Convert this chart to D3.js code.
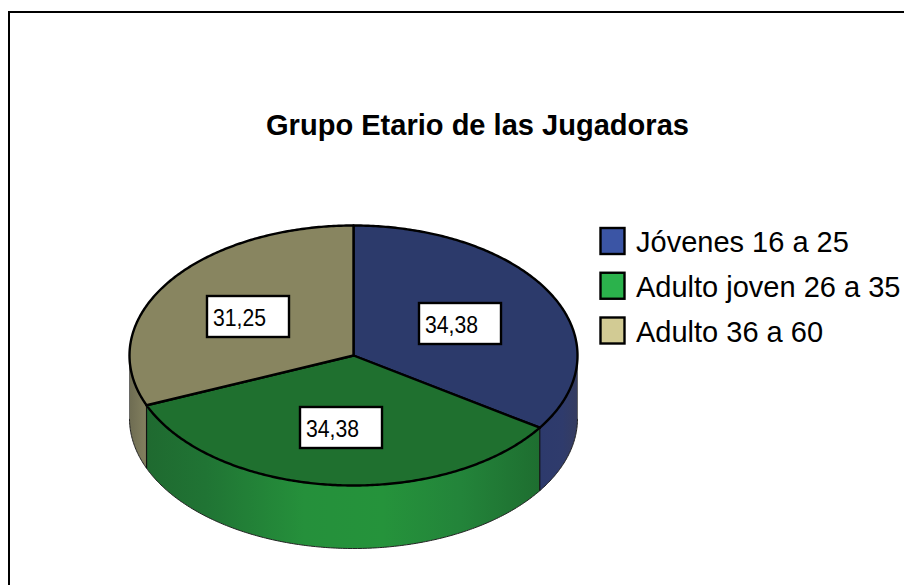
<!DOCTYPE html>
<html><head><meta charset="utf-8">
<script src="https://cdn.jsdelivr.net/npm/d3@7"></script>
<style>html,body{margin:0;padding:0;background:#fff}svg{display:block}text{font-family:"Liberation Sans",Arial,sans-serif;fill:#000}</style>
</head><body><svg id="c" width="904" height="585"></svg>
<script>
const categories = ["Jóvenes 16 a 25", "Adulto joven 26 a 35", "Adulto 36 a 60"];
const values = [34.38, 34.38, 31.25];
const valueLabels = ["34,38", "34,38", "31,25"];
const legendColors = ["#3b55a5", "#2bb24c", "#d2cb94"];
const topColors = ["#2c3a6b", "#1f702f", "#888560"];
const wallStops = [
  [[0, "#2d3a6c"], [0.6, "#2f3b6c"], [1, "#353c60"]],
  [[0, "#1f6a30"], [0.15, "#207434"], [0.4, "#25903b"], [0.6, "#25933b"], [0.8, "#23843a"], [1, "#1e6e30"]],
  [[0, "#6e6c52"], [1, "#83805f"]]
];
const title = "Grupo Etario de las Jugadoras";

const cx = 353.5, cy = 355.5, rx = 224, ry = 130, depth = 63;
const svg = d3.select("#c");
const defs = svg.append("defs");

// frame: top and left rules only
svg.append("path").attr("d", "M904,12H9V585").attr("fill", "none").attr("stroke", "#000").attr("stroke-width", 2);

svg.append("text").attr("x", 477.5).attr("y", 134.5).attr("text-anchor", "middle")
  .attr("font-size", 29.3).attr("font-weight", "bold").attr("textLength", 423).attr("lengthAdjust", "spacingAndGlyphs").text(title);

const pie = d3.pie().sort(null).value(d => d).startAngle(0).endAngle(2 * Math.PI);
const arcs = pie(values);
const px = a => cx + rx * Math.sin(a);
const py = (a, dy = 0) => cy - ry * Math.cos(a) + dy;
const sample = (a0, a1) => {
  const n = Math.max(2, Math.ceil(Math.abs(a1 - a0) * 90));
  return d3.range(n + 1).map(i => a0 + (a1 - a0) * i / n);
};
const line = d3.line();

// side walls: only the front half of the ellipse (pi/2 to 3pi/2) is visible
arcs.forEach((d, i) => {
  const a0 = Math.max(d.startAngle, Math.PI / 2), a1 = Math.min(d.endAngle, 3 * Math.PI / 2);
  if (a1 <= a0) return;
  const xs = [px(a0), px(a1)];
  const g = defs.append("linearGradient").attr("id", "w" + i).attr("gradientUnits", "userSpaceOnUse")
    .attr("x1", d3.min(xs)).attr("x2", d3.max(xs)).attr("y1", 0).attr("y2", 0);
  wallStops[i].forEach(s => g.append("stop").attr("offset", s[0]).attr("stop-color", s[1]));
  const upper = sample(a0, a1).map(a => [px(a), py(a)]);
  const lower = sample(a1, a0).map(a => [px(a), py(a, depth)]);
  svg.append("path").attr("d", line(upper.concat(lower)) + "Z").attr("fill", `url(#w${i})`);
  svg.append("path").attr("d", line(lower)).attr("fill", "none").attr("stroke", "#222").attr("stroke-width", 1);
});
// vertical seams between walls
arcs.forEach(d => {
  const a = d.startAngle;
  if (a > Math.PI / 2 && a < 3 * Math.PI / 2) {
    svg.append("line").attr("x1", px(a)).attr("x2", px(a)).attr("y1", py(a)).attr("y2", py(a, depth))
      .attr("stroke", "#111").attr("stroke-width", 1.2);
  }
});
// faint edge of the outermost wall silhouette
[Math.PI / 2, 3 * Math.PI / 2].forEach(a => {
  svg.append("line").attr("x1", px(a)).attr("x2", px(a)).attr("y1", py(a)).attr("y2", py(a, depth))
    .attr("stroke", "#555").attr("stroke-width", 0.8);
});

// top faces
arcs.forEach((d, i) => {
  const pts = [[cx, cy]].concat(sample(d.startAngle, d.endAngle).map(a => [px(a), py(a)]));
  svg.append("path").attr("d", line(pts) + "Z").attr("fill", topColors[i])
    .attr("stroke", "#000").attr("stroke-width", 2.4).attr("stroke-linejoin", "round");
});

// value labels, centred at a fixed fraction of the radius along each slice's mid angle
const labelRadius = 0.55, boxW = 82, boxH = 41, nudge = [[-2, 2], [0, 1], [-3, 1]];
arcs.forEach((d, i) => {
  const m = (d.startAngle + d.endAngle) / 2;
  const bx = Math.round(cx + labelRadius * rx * Math.sin(m) + nudge[i][0] - boxW / 2);
  const by = Math.round(cy - labelRadius * ry * Math.cos(m) + nudge[i][1] - boxH / 2);
  svg.append("rect").attr("x", bx).attr("y", by).attr("width", boxW).attr("height", boxH)
    .attr("fill", "#fff").attr("stroke", "#000").attr("stroke-width", 2.4);
  svg.append("text").attr("x", bx + 6).attr("y", by + 30).attr("font-size", 23)
    .attr("textLength", 53).attr("lengthAdjust", "spacingAndGlyphs").text(valueLabels[i]);
});

// legend
const legendY = d3.scalePoint().domain(categories).range([241, 330.5]);
categories.forEach((c, i) => {
  const y = legendY(c);
  svg.append("rect").attr("x", 600.5).attr("y", y - 13).attr("width", 24).attr("height", 26)
    .attr("fill", legendColors[i]).attr("stroke", "#000").attr("stroke-width", 2.4);
  svg.append("text").attr("x", 636).attr("y", y + 11).attr("font-size", 29).text(c);
});
</script></body></html>
